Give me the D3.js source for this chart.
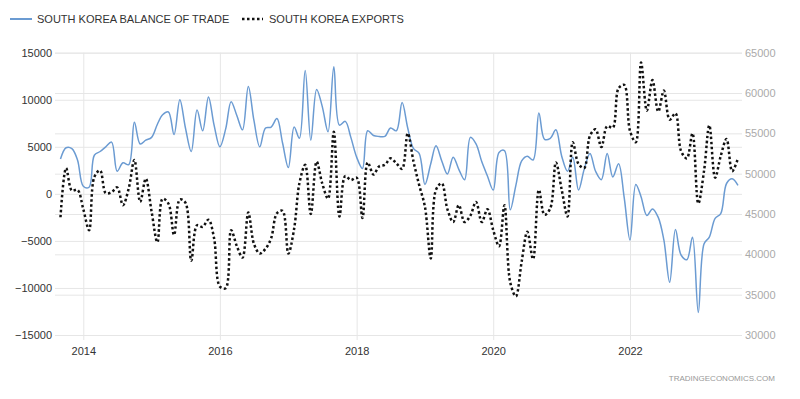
<!DOCTYPE html>
<html>
<head>
<meta charset="utf-8">
<script src="https://cdn.jsdelivr.net/npm/d3@7"></script>
<style>
  body { margin: 0; background: #fff; }
  svg { display: block; font-family: Arial, "Liberation Sans", sans-serif; }
</style>
</head>
<body>
<div id="chart"></div>
<script>
// monthly, Sep 2013 .. Aug 2023
var firstMonth = new Date(2013, 8, 1);
var lastMonth = new Date(2023, 7, 1);
var yearTicks = [2014, 2016, 2018, 2020, 2022];
var leftTicks = [-15000, -10000, -5000, 0, 5000, 10000, 15000];
var rightTicks = [30000, 35000, 40000, 45000, 50000, 55000, 60000, 65000];

// balance of trade, USD million
var balance = [
  3700, 4900, 4800, 3600,                                                    // 2013
  800, 700, 4100, 4500, 5000, 5500, 2400, 3300, 3100, 7600, 5300, 5700,      // 2014
  6000, 7400, 8400, 8700, 6300, 10000, 7000, 4500, 8900, 6700, 10300, 7300,  // 2015
  5000, 6900, 9800, 8300, 6800, 11400, 7800, 5000, 7000, 7100, 8000, 5400,   // 2016
  2800, 7100, 5900, 13100, 5700, 11100, 9300, 6600, 13500, 7300, 7700, 6000, // 2017
  3900, 2700, 6700, 6200, 6100, 6100, 7000, 6700, 9700, 7000, 4800, 4300,    // 2018
  1000, 3200, 5100, 3500, 2100, 3900, 2600, 1500, 6000, 5300, 3400, 1900,    // 2019
  400, 4400, 4600, -1700, 900, 3500, 4000, 3600, 8600, 5800, 5900, 6800,     // 2020
  4000, 2400, 3900, 400, 2600, 4300, 2400, 1500, 4300, 1800, 3200, -400,     // 2021
  -4900, 1000, -300, -2300, -1600, -2500, -4900, -9400, -3800, -6500, -7000, -4600, // 2022
  -12600, -5300, -4600, -2600, -2100, 1100, 1600, 900                        // 2023
];

// exports, USD million
var exportsData = [
  44600, 50700, 47900, 48000,                                                       // 2013
  45600, 43000, 49600, 50400, 47600, 47700, 48300, 46100, 48200, 51700, 46500, 49400, // 2014
  45300, 41500, 46900, 46300, 42400, 46800, 46400, 39200, 43600, 43400, 44300, 42000, // 2015
  36000, 35800, 43000, 41000, 39600, 45200, 41300, 40100, 40700, 42000, 45100, 45400, // 2016
  40100, 43200, 48800, 51100, 45000, 51500, 48800, 46900, 55200, 44700, 49700, 49200, // 2017
  49500, 44500, 51400, 49900, 50900, 51100, 51900, 51300, 50600, 55000, 51500, 48600, // 2018
  45900, 39500, 48000, 48800, 45600, 44000, 46100, 44000, 44800, 46500, 44000, 45600, // 2019
  43000, 41000, 46100, 36500, 34800, 39100, 42800, 39400, 48000, 44900, 45700, 51400, // 2020
  48000, 44700, 53900, 51200, 50700, 54700, 55500, 53300, 55900, 55700, 60600, 61000, // 2021
  55300, 53900, 63800, 57800, 61600, 57700, 60300, 56700, 57500, 52800, 51900, 55000, // 2022
  46300, 50400, 56000, 49500, 52200, 54300, 50300, 51900                              // 2023
];

var width = 800, height = 399;
var plotLeft = 55, plotRight = 742, plotTop = 52.7, plotBottom = 335;

var months = d3.timeMonth.range(firstMonth, d3.timeMonth.offset(lastMonth, 1));

var svg = d3.select("#chart").append("svg")
  .attr("width", width)
  .attr("height", height);

var x = d3.scaleTime()
  .domain([new Date(2014, 0, 1), new Date(2022, 0, 1)])
  .range([83.3, 630]);

var yLeft = d3.scaleLinear().domain([-15000, 15000]).range([plotBottom, plotTop]);
var yRight = d3.scaleLinear().domain([30000, 65000]).range([plotBottom, plotTop]);

// vertical grid + year labels
var xAxis = d3.axisBottom(x)
  .tickValues(yearTicks.map(function (y) { return new Date(y, 0, 1); }))
  .tickFormat(d3.timeFormat("%Y"))
  .tickSizeInner(-(plotBottom + 5 - plotTop))
  .tickSizeOuter(0)
  .tickPadding(7);

var gx = svg.append("g")
  .attr("transform", "translate(0," + (plotBottom + 5) + ")")
  .call(xAxis);
gx.select(".domain").remove();
gx.selectAll("line").attr("stroke", "#e6e6e6");
gx.selectAll("text").attr("fill", "#333").style("font-size", "11px");

// left axis grid
var gl = svg.append("g")
  .attr("transform", "translate(" + plotLeft + ",0)")
  .call(d3.axisLeft(yLeft).tickValues(leftTicks).tickFormat(d3.format("d"))
    .tickSizeInner(-(plotRight - plotLeft)).tickSizeOuter(0).tickPadding(3));
gl.select(".domain").remove();
gl.selectAll("line").attr("stroke", "#e6e6e6");
gl.selectAll("text").attr("fill", "#333").style("font-size", "11px");

// right axis grid
var gr = svg.append("g")
  .attr("transform", "translate(" + plotRight + ",0)")
  .call(d3.axisRight(yRight).tickValues(rightTicks).tickFormat(d3.format("d"))
    .tickSizeInner(-(plotRight - plotLeft)).tickSizeOuter(0).tickPadding(3));
gr.select(".domain").remove();
gr.selectAll("line").attr("stroke", "#e6e6e6");
gr.selectAll("text").attr("fill", "#aaa").style("font-size", "11px");

// lines (smooth spline like the original)
var balanceLine = d3.line()
  .x(function (d, i) { return x(months[i]); })
  .y(function (d) { return yLeft(d); })
  .curve(d3.curveCatmullRom.alpha(0.5));

var exportsLine = d3.line()
  .x(function (d, i) { return x(months[i]); })
  .y(function (d) { return yRight(d); })
  .curve(d3.curveCatmullRom.alpha(0.5));

svg.append("path")
  .datum(balance)
  .attr("fill", "none")
  .attr("stroke", "#6b9bd2")
  .attr("stroke-width", 1.5)
  .attr("d", balanceLine);

svg.append("path")
  .datum(exportsData)
  .attr("fill", "none")
  .attr("stroke", "#111")
  .attr("stroke-width", 2.5)
  .attr("stroke-dasharray", "2.5,2.5")
  .attr("d", exportsLine);

// legend
var legend = svg.append("g");
legend.append("line")
  .attr("x1", 10).attr("x2", 32).attr("y1", 19).attr("y2", 19)
  .attr("stroke", "#6b9bd2").attr("stroke-width", 2);
legend.append("text")
  .attr("x", 37).attr("y", 23)
  .attr("fill", "#333").style("font-size", "11px")
  .text("SOUTH KOREA BALANCE OF TRADE");
legend.append("line")
  .attr("x1", 242).attr("x2", 263).attr("y1", 19).attr("y2", 19)
  .attr("stroke", "#111").attr("stroke-width", 2.5)
  .attr("stroke-dasharray", "2.5,2.5");
legend.append("text")
  .attr("x", 269).attr("y", 23)
  .attr("fill", "#333").style("font-size", "11px")
  .text("SOUTH KOREA EXPORTS");

// source
svg.append("text")
  .attr("x", 775).attr("y", 381)
  .attr("text-anchor", "end")
  .attr("fill", "#999")
  .style("font-size", "8px")
  .text("TRADINGECONOMICS.COM");
</script>
</body>
</html>
